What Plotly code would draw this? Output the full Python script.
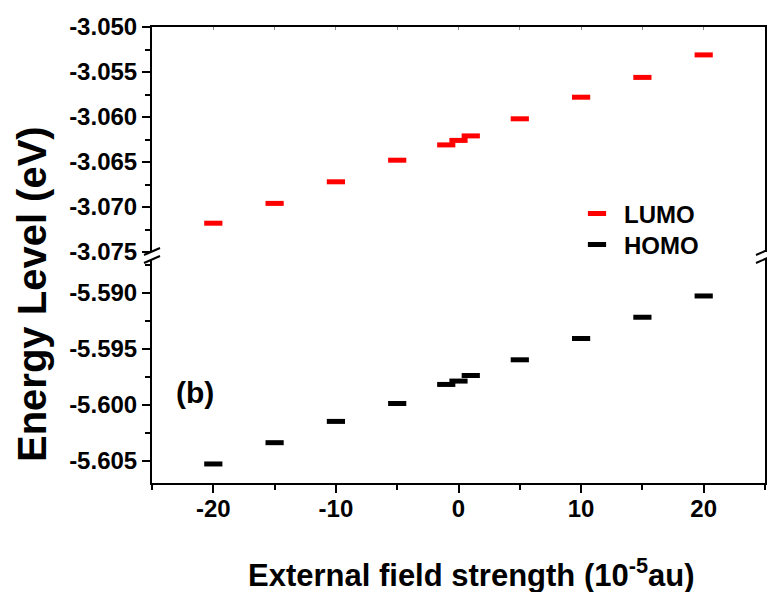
import plotly.graph_objects as go

# ---- data ----
field = [-20, -15, -10, -5, -1, 0, 1, 5, 10, 15, 20]
lumo = [-3.0718, -3.0696, -3.0672, -3.0648, -3.0631, -3.0626, -3.0621,
        -3.0602, -3.0578, -3.0556, -3.0531]
homo = [-5.6053, -5.6034, -5.6015, -5.5999, -5.5982, -5.5979, -5.5974,
        -5.5960, -5.5941, -5.5922, -5.5903]
top_ticks = [-3.050, -3.055, -3.060, -3.065, -3.070, -3.075]
top_labels = ["-3.050", "-3.055", "-3.060", "-3.065", "-3.070", "-3.075"]
bot_ticks = [-5.590, -5.595, -5.600, -5.605]
bot_labels = ["-5.590", "-5.595", "-5.600", "-5.605"]
x_ticks = [-20, -10, 0, 10, 20]
x_labels = ["-20", "-10", "0", "10", "20"]

W, H = 767, 592
PL, PR, PT, PB = 152, 765, 27, 483      # plot box in pixels
L, T, R, B = PL, PT, W - PR, H - PB
PW, PH = PR - PL, PB - PT
TOP_BOTTOM_PX = 252
BOT_TOP_PX = 259


def px(x):
    return (x - PL) / PW


def py(y):
    return (PB - y) / PH


FONT = "Liberation Sans, Arial, sans-serif"

fig = go.Figure()
fig.add_trace(go.Scatter(
    x=field, y=lumo, mode="markers", name="LUMO",
    xaxis="x2", yaxis="y2", legend="legend",
    marker=dict(symbol="line-ew", size=13, color="#FF0000",
                line=dict(color="#FF0000", width=5)),
))
fig.add_trace(go.Scatter(
    x=field, y=homo, mode="markers", name="HOMO",
    xaxis="x", yaxis="y", legend="legend2",
    marker=dict(symbol="line-ew", size=13, color="#000000",
                line=dict(color="#000000", width=5)),
))

tickfont = dict(family=FONT, size=24, color="black", weight="bold")
legfont = dict(family=FONT, size=24, color="black", weight="bold")

fig.update_layout(
    width=W, height=H,
    margin=dict(l=L, r=R, t=T, b=B, autoexpand=False),
    paper_bgcolor="white", plot_bgcolor="white",
    showlegend=True,
    legend=dict(x=px(570), y=py(214), xanchor="left", yanchor="middle",
                font=legfont, bgcolor="rgba(0,0,0,0)", itemwidth=44),
    legend2=dict(x=px(570), y=py(245), xanchor="left", yanchor="middle",
                 font=legfont, bgcolor="rgba(0,0,0,0)", itemwidth=44),
    xaxis=dict(
        anchor="y", domain=[0, 1], range=[-25, 25],
        tickvals=x_ticks, ticktext=x_labels,
        ticks="outside", ticklen=8, tickwidth=2, tickcolor="black",
        ticklabelstandoff=-5,
        minor=dict(dtick=5, tick0=0, ticks="outside", ticklen=5,
                   tickwidth=2, tickcolor="black"),
        showline=True, linewidth=2, linecolor="black",
        showgrid=False, zeroline=False, tickfont=tickfont,
    ),
    xaxis2=dict(
        anchor="y2", matches="x", side="top", range=[-25, 25],
        showticklabels=False, ticks="inside", ticklen=3, tickwidth=1,
        tickcolor="#888", dtick=5, tick0=0,
        showline=True, linewidth=2, linecolor="black",
        showgrid=False, zeroline=False,
    ),
    yaxis=dict(
        domain=[0, py(BOT_TOP_PX)], range=[-5.607, -5.587],
        tickvals=bot_ticks, ticktext=bot_labels,
        ticks="outside", ticklen=8, tickwidth=2, tickcolor="black",
        minor=dict(dtick=0.0025, tick0=-5.6, ticks="outside", ticklen=5,
                   tickwidth=2, tickcolor="black"),
        showline=True, linewidth=2, linecolor="black", mirror=True,
        showgrid=False, zeroline=False, tickfont=tickfont,
    ),
    yaxis2=dict(
        domain=[py(TOP_BOTTOM_PX), 1], range=[-3.075, -3.050],
        tickvals=top_ticks, ticktext=top_labels,
        ticks="outside", ticklen=8, tickwidth=2, tickcolor="black",
        minor=dict(dtick=0.0025, tick0=-3.05, ticks="outside", ticklen=5,
                   tickwidth=2, tickcolor="black"),
        showline=True, linewidth=2, linecolor="black", mirror=True,
        showgrid=False, zeroline=False, tickfont=tickfont,
    ),
)

# axis titles and panel label
fig.add_annotation(
    text="Energy Level (eV)", xref="paper", yref="paper",
    x=px(32), y=py(294), xanchor="center", yanchor="middle",
    textangle=-90, showarrow=False,
    font=dict(family=FONT, size=40, color="black", weight="bold"),
)
fig.add_annotation(
    text="External field strength (10<sup>-5</sup>au)", xref="paper", yref="paper",
    x=px(471), y=py(573), xanchor="center", yanchor="middle", showarrow=False,
    font=dict(family=FONT, size=31, color="black", weight="bold"),
)
fig.add_annotation(
    text="(b)", xref="paper", yref="paper",
    x=px(195), y=py(392), xanchor="center", yanchor="middle", showarrow=False,
    font=dict(family=FONT, size=30, color="black", weight="bold"),
)

# axis-break slashes (white gap + two diagonal strokes on each side)
for xc in (152, 764):
    fig.add_shape(type="rect", xref="paper", yref="paper",
                  x0=px(xc - 3), x1=px(xc + 3), y0=py(BOT_TOP_PX), y1=py(TOP_BOTTOM_PX),
                  line=dict(width=0), fillcolor="white", layer="above")
    for yc in (251.5, 259.5):
        fig.add_shape(type="line", xref="paper", yref="paper",
                      x0=px(xc - 8), y0=py(yc + 3.5), x1=px(xc + 8), y1=py(yc - 3.5),
                      line=dict(color="black", width=2), layer="above")

# remove the browser's default 8px body margin so the figure fills the window
fig.write_html("out.html", config={"displayModeBar": False},
               post_script="document.body.style.margin='0';")
